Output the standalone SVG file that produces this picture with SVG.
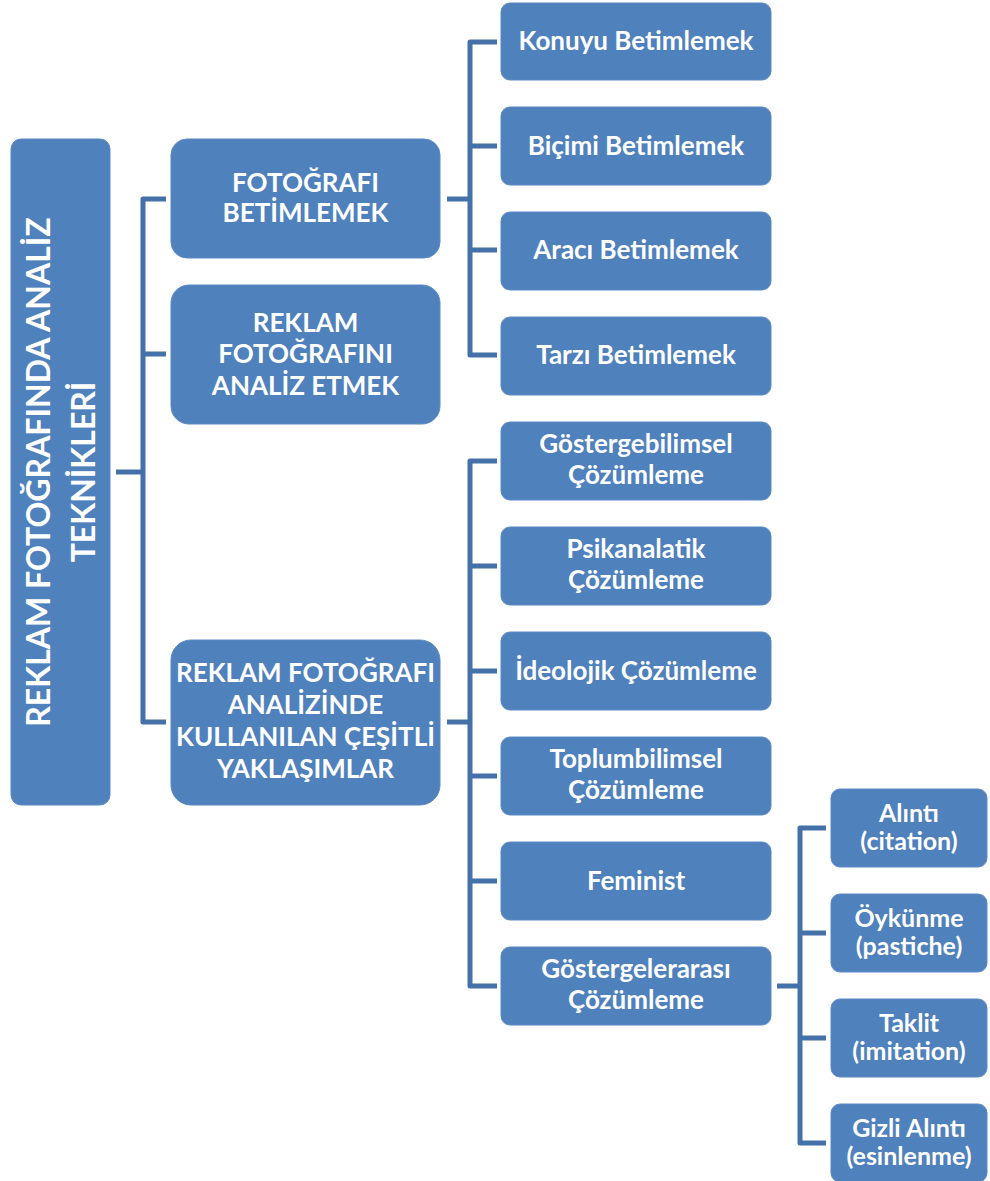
<svg xmlns="http://www.w3.org/2000/svg" width="990" height="1181" viewBox="0 0 990 1181">
<style>
.n{fill:#4F81BD;stroke:#5B8AC4;stroke-width:1}
.t{fill:#FFFFFF;font-family:Lato,"Open Sans","Liberation Sans",sans-serif;font-weight:bold;font-size:26px;text-anchor:middle}
.r{font-size:32px}
.s{font-size:25px}
.c{fill:none;stroke:#4571A9;stroke-width:5;stroke-linejoin:round}
</style>
<rect width="990" height="1181" fill="#FFFFFF"/>
<g id="connectors">
<path class="c" d="M116,472 H143"/>
<path class="c" d="M166,199 H143 V722 H166 M143,354 H166"/>
<path class="c" d="M447,199 H470"/>
<path class="c" d="M497,42 H470 V355 H497 M470,146 H497 M470,250 H497"/>
<path class="c" d="M447,722 H470"/>
<path class="c" d="M497,461 H470 V986 H497 M470,566 H497 M470,671 H497 M470,776 H497 M470,881 H497"/>
<path class="c" d="M777,986 H800"/>
<path class="c" d="M826,828 H800 V1143 H826 M800,933 H826 M800,1038 H826"/>
</g>
<g id="root">
<rect class="n" x="11" y="139" width="99" height="666" rx="10"/>
<text class="t r" transform="translate(50,472) rotate(-90)">REKLAM FOTOĞRAFINDA ANALİZ</text>
<text class="t r" transform="translate(95,472) rotate(-90)">TEKNİKLERİ</text>
</g>
<g id="n-fotografi-betimlemek">
<rect class="n" x="171" y="139" width="269" height="119" rx="16"/>
<text class="t" x="305.5" y="192">FOTOĞRAFI</text>
<text class="t" x="305.5" y="222">BETİMLEMEK</text>
</g>
<g id="n-reklam-fotografini">
<rect class="n" x="171" y="285" width="269" height="139" rx="18"/>
<text class="t" x="305.5" y="332">REKLAM</text>
<text class="t" x="305.5" y="363">FOTOĞRAFINI</text>
<text class="t" x="305.5" y="395">ANALİZ ETMEK</text>
</g>
<g id="n-yaklasimlar">
<rect class="n" x="171" y="640" width="269" height="165" rx="20"/>
<text class="t" x="305.5" y="682">REKLAM FOTOĞRAFI</text>
<text class="t" x="305.5" y="714">ANALİZİNDE</text>
<text class="t" x="305.5" y="746">KULLANILAN ÇEŞİTLİ</text>
<text class="t" x="305.5" y="778">YAKLAŞIMLAR</text>
</g>
<g id="n-konuyu">
<rect class="n" x="501" y="3" width="270" height="77" rx="9"/>
<text class="t" x="636" y="50">Konuyu Betimlemek</text>
</g>
<g id="n-bicimi">
<rect class="n" x="501" y="107" width="270" height="78" rx="9"/>
<text class="t" x="636" y="155">Biçimi Betimlemek</text>
</g>
<g id="n-araci">
<rect class="n" x="501" y="212" width="270" height="78" rx="9"/>
<text class="t" x="636" y="259">Aracı Betimlemek</text>
</g>
<g id="n-tarzi">
<rect class="n" x="501" y="317" width="270" height="78" rx="9"/>
<text class="t" x="636" y="364">Tarzı Betimlemek</text>
</g>
<g id="n-gostergebilimsel">
<rect class="n" x="501" y="422" width="270" height="78" rx="9"/>
<text class="t" x="636" y="453">Göstergebilimsel</text>
<text class="t" x="636" y="484">Çözümleme</text>
</g>
<g id="n-psikanalatik">
<rect class="n" x="501" y="527" width="270" height="78" rx="9"/>
<text class="t" x="636" y="558">Psikanalatik</text>
<text class="t" x="636" y="589">Çözümleme</text>
</g>
<g id="n-ideolojik">
<rect class="n" x="501" y="632" width="270" height="78" rx="9"/>
<text class="t" x="636" y="680">İdeolojik Çözümleme</text>
</g>
<g id="n-toplumbilimsel">
<rect class="n" x="501" y="737" width="270" height="78" rx="9"/>
<text class="t" x="636" y="768">Toplumbilimsel</text>
<text class="t" x="636" y="799">Çözümleme</text>
</g>
<g id="n-feminist">
<rect class="n" x="501" y="842" width="270" height="78" rx="9"/>
<text class="t" x="636" y="890">Feminist</text>
</g>
<g id="n-gostergelerarasi">
<rect class="n" x="501" y="947" width="270" height="78" rx="9"/>
<text class="t" x="636" y="978">Göstergelerarası</text>
<text class="t" x="636" y="1009">Çözümleme</text>
</g>
<g id="n-alinti">
<rect class="n" x="831" y="789" width="156" height="78" rx="9"/>
<text class="t s" x="909" y="822">Alıntı</text>
<text class="t s" x="909" y="850">(citation)</text>
</g>
<g id="n-oykunme">
<rect class="n" x="831" y="894" width="156" height="78" rx="9"/>
<text class="t s" x="909" y="927">Öykünme</text>
<text class="t s" x="909" y="955">(pastiche)</text>
</g>
<g id="n-taklit">
<rect class="n" x="831" y="999" width="156" height="78" rx="9"/>
<text class="t s" x="909" y="1032">Taklit</text>
<text class="t s" x="909" y="1060">(imitation)</text>
</g>
<g id="n-gizli">
<rect class="n" x="831" y="1104" width="156" height="78" rx="9"/>
<text class="t s" x="909" y="1137">Gizli Alıntı</text>
<text class="t s" x="909" y="1165">(esinlenme)</text>
</g>
</svg>
